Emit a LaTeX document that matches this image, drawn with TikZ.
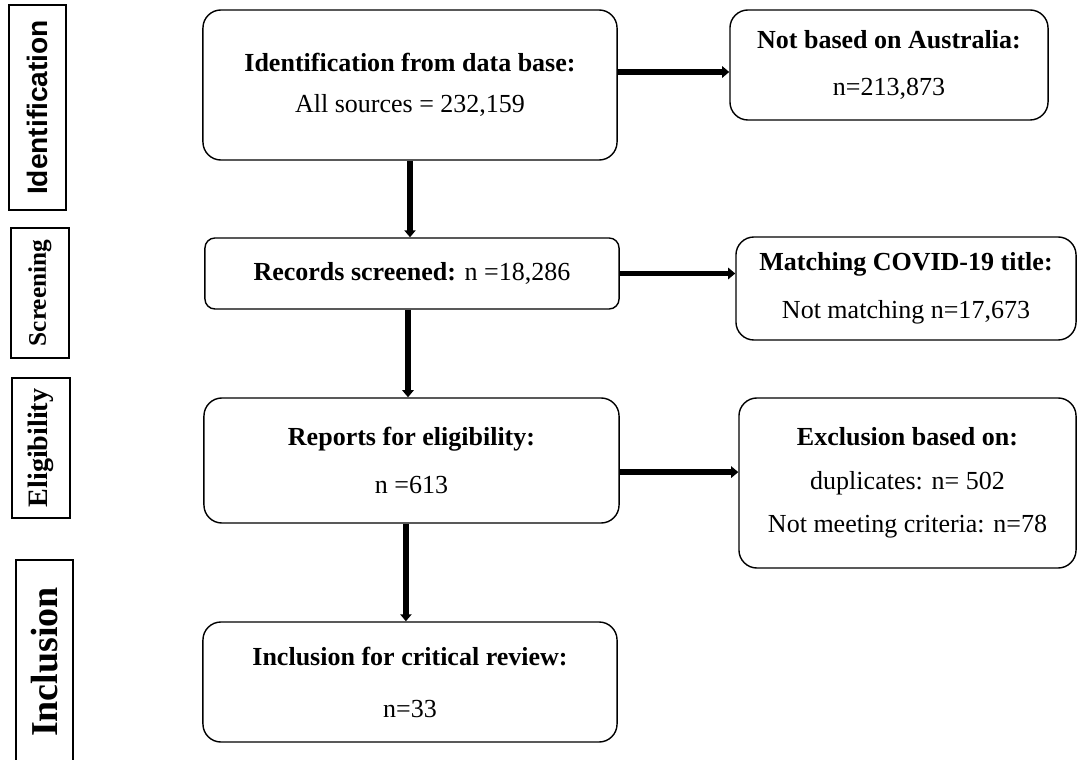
\documentclass[tikz,border=0pt]{standalone}
\usepackage{fontspec}
\setmainfont{Liberation Serif}
\newfontfamily\labelsans{Liberation Sans}
\usetikzlibrary{arrows.meta}
\tikzset{
	stagebox/.style={draw, line width=1pt, rounded corners=0.45cm, align=center, inner sep=2pt, font=\fontsize{18.5}{34}\selectfont},
	phase/.style={draw, line width=1.3pt, rotate=90, inner sep=2pt, font=\bfseries\fontsize{18}{20}\selectfont},
	flow/.style={-{Triangle[length=5pt,width=8pt]}, line width=4pt}
}

\begin{document}
\begin{tikzpicture}[x=0.025cm, y=-0.025cm]
			\useasboundingbox (0,0) rectangle (1078,760);
			
			% phase labels on the left
			\node[phase, minimum width=5.125cm, minimum height=1.425cm, font=\labelsans\bfseries\fontsize{20}{22}\selectfont] (lident) at (37.5,107.5) {Identification};
			\node[phase, minimum width=3.25cm, minimum height=1.45cm] (lscreen) at (40,293) {Screening};
			\node[phase, minimum width=3.5cm, minimum height=1.45cm, font=\bfseries\fontsize{20}{22}\selectfont] (lelig) at (41,448) {Eligibility};
			\node[phase, minimum width=5.1cm, minimum height=1.425cm, font=\bfseries\fontsize{27}{29}\selectfont] (lincl) at (44.5,662) {Inclusion};
			
			% main boxes
			\node[stagebox, minimum width=10.35cm, minimum height=3.75cm, font=\fontsize{18.5}{29}\selectfont] (ident) at (410,85) {\textbf{Identification from data base:}\\ All sources = 232,159};
			\node[stagebox, minimum width=10.35cm, minimum height=1.775cm, rounded corners=0.25cm] (screen) at (412,273.5) {\textbf{Records screened:} n =18,286};
			\node[stagebox, minimum width=10.375cm, minimum height=3.125cm] (report) at (411.5,460.5) {\textbf{Reports for eligibility:}\\ n =613};
			\node[stagebox, minimum width=10.35cm, minimum height=3cm, font=\fontsize{18.5}{37}\selectfont] (incl) at (410,682) {\textbf{Inclusion for critical review:}\\ n=33};
			
			% exclusion boxes on the right
			\node[stagebox, minimum width=7.95cm, minimum height=2.75cm] (notaus) at (889,65) {\textbf{Not based on Australia:}\\ n=213,873};
			\node[stagebox, minimum width=8.5cm, minimum height=2.575cm] (match) at (906,288.5) {\textbf{Matching COVID-19 title:}\\ Not matching n=17,673};
			\node[stagebox, minimum width=8.425cm, minimum height=4.25cm, font=\fontsize{18.5}{31}\selectfont] (excl) at (907.5,483) {\textbf{Exclusion based on:}\\ duplicates: n= 502\\ Not meeting criteria: n=78};
			
			% arrows
			\draw[flow] ([yshift=0.325cm]ident.east) -- ([yshift=0.325cm]ident.east -| notaus.west);
			\draw[flow] (ident.south) -- (ident.south |- screen.north);
			\draw[flow] (screen.east) -- (screen.east -| match.west);
			\draw[flow] ([xshift=-0.1cm]screen.south) -- ([xshift=-0.1cm]screen.south |- report.north);
			\draw[flow] ([yshift=-0.29cm]report.east) -- ([yshift=-0.29cm]report.east -| excl.west);
			\draw[flow] ([xshift=-0.14cm]report.south) -- ([xshift=-0.14cm]report.south |- incl.north);
		\end{tikzpicture}
\end{document}
